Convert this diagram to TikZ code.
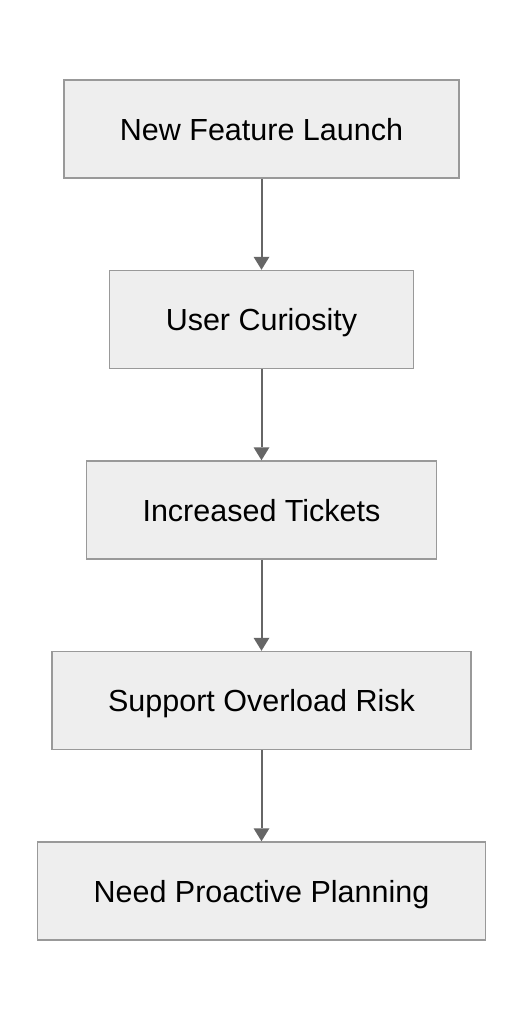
\documentclass[tikz,border=0pt]{standalone}
\usepackage{fontspec}
\setmainfont{Liberation Sans}
\usetikzlibrary{positioning, arrows.meta}

\definecolor{boxfill}{HTML}{EEEEEE}
\definecolor{boxline}{HTML}{999999}
\definecolor{arrowline}{HTML}{666666}

\begin{document}
\begin{tikzpicture}[node distance=190.5pt, on grid, auto,
    stage/.style={draw=boxline, fill=boxfill, line width=1.5pt, minimum height=98pt,
      inner xsep=56pt, text height=22pt, text depth=0pt,
      font=\fontsize{30.5pt}{36pt}\selectfont},
    flow/.style={draw=arrowline, line width=2pt,
      -{Triangle[width=16pt, length=13pt, line width=0pt]}}]
  \useasboundingbox (0,0) rectangle (524pt,-1020pt);
  \node[stage] (launch) at (261.5pt,-129pt) {New Feature Launch};
  \node[stage] (curiosity) [below=of launch] {User Curiosity};
  \node[stage] (tickets) [below=of curiosity] {Increased Tickets};
  \node[stage] (overload) [below=of tickets] {Support Overload Risk};
  \node[stage] (planning) [below=of overload] {Need Proactive Planning};

  \path
    (launch) edge[flow] (curiosity)
    (curiosity) edge[flow] (tickets)
    (tickets) edge[flow] (overload)
    (overload) edge[flow] (planning);
\end{tikzpicture}
\end{document}
